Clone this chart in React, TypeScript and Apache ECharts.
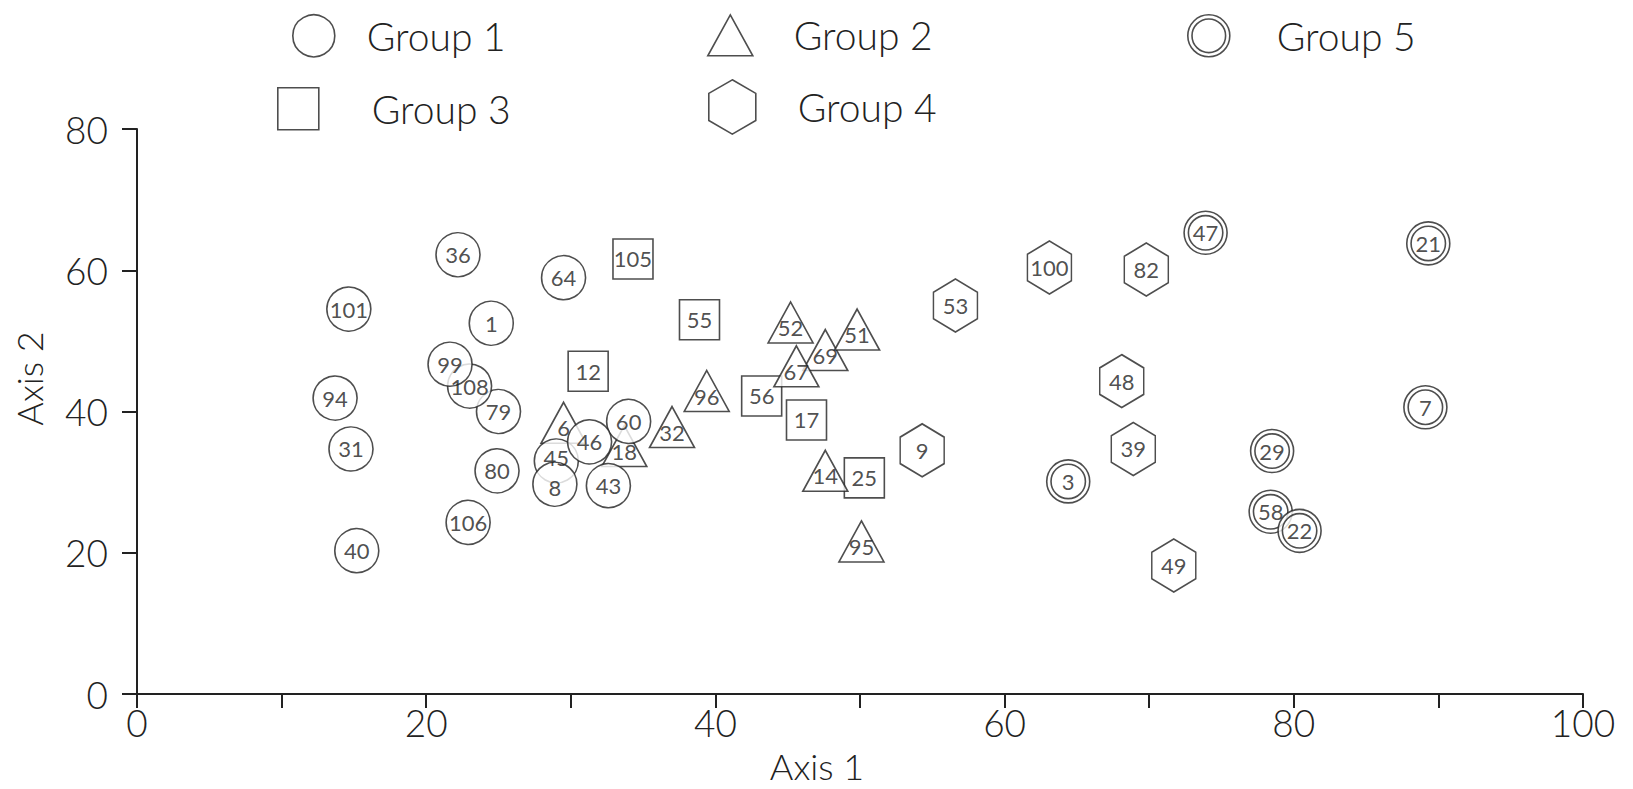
import React, { useEffect, useRef } from "react";
import * as echarts from "echarts";

// ---- data ----
const g1Ids = ["36", "64", "101", "1", "94", "79", "108", "99", "60", "31", "45", "46", "80", "8", "43", "106", "40"];
const g1X = [22.2, 29.5, 14.65, 24.5, 13.7, 25.0, 23.0, 21.65, 34.0, 14.8, 29.0, 31.3, 24.9, 28.9, 32.6, 22.9, 15.2];
const g1Y = [62.2, 58.95, 54.5, 52.5, 41.9, 40.0, 43.6, 46.7, 38.6, 34.7, 33.0, 35.7, 31.6, 29.7, 29.5, 24.3, 20.3];

const g2Ids = ["6", "18", "32", "96", "52", "69", "51", "67", "14", "95"];
const g2X = [29.5, 33.7, 37.0, 39.4, 45.2, 47.6, 49.8, 45.6, 47.6, 50.1];
const g2Y = [38.4, 35.1, 37.8, 42.9, 52.6, 48.7, 51.6, 46.4, 31.6, 21.6];

const g3Ids = ["105", "55", "12", "56", "17", "25"];
const g3X = [34.3, 38.9, 31.2, 43.2, 46.3, 50.3];
const g3Y = [61.6, 53.0, 45.7, 42.2, 38.8, 30.6];

const g4Ids = ["53", "100", "82", "48", "9", "39", "49"];
const g4X = [56.6, 63.1, 69.8, 68.1, 54.3, 68.9, 71.7];
const g4Y = [55.0, 60.4, 60.1, 44.3, 34.5, 34.7, 18.2];

const g5Ids = ["47", "21", "7", "3", "29", "58", "22"];
const g5X = [73.9, 89.3, 89.1, 64.4, 78.5, 78.4, 80.4];
const g5Y = [65.3, 63.8, 40.6, 30.1, 34.4, 25.8, 23.1];

const groupNames = ["Group 1", "Group 2", "Group 3", "Group 4", "Group 5"];
const xTicks = [0, 20, 40, 60, 80, 100];
const yTicks = [0, 20, 40, 60, 80];

// small label nudges (style only) for crowded points
const labelNudge: Record<string, number> = { "45": -3, "8": 3 };

const FONT = "Lato";
const WEIGHT = 300;
const INK = "#222222";

const HEX = "path://M0,-50 L43.3,-25 L43.3,25 L0,50 L-43.3,25 L-43.3,-25 Z";
const DCIRCLE =
  "path://M50,0 A50,50 0 1,1 50,100 A50,50 0 1,1 50,0 Z M50,10 A40,40 0 1,1 50,90 A40,40 0 1,1 50,10 Z";

function build(ids: string[], xs: number[], ys: number[], baseOff: number) {
  return ids.map((id, i) => {
    const item: any = { name: id, value: [xs[i], ys[i]] };
    if (labelNudge[id] !== undefined) item.label = { offset: [0, baseOff + labelNudge[id]] };
    return item;
  });
}

export default function App() {
  const ref = useRef<HTMLDivElement>(null);
  useEffect(() => {
    if (!ref.current) return;
    const chart = echarts.init(ref.current, undefined, { renderer: "svg" });
    const itemStyle = { color: "#ffffff", borderColor: INK, borderWidth: 1.6 };
    const label = (offsetY: number) => ({
      show: true,
      position: "inside",
      formatter: (p: any) => p.name,
      fontFamily: FONT,
      fontWeight: 400,
      fontSize: 22,
      lineHeight: 20,
      color: INK,
      offset: [0, offsetY],
    });
    const mk = (name: string, symbol: string, size: any, ids: string[], xs: number[], ys: number[], off: number) => ({
      type: "scatter",
      name,
      symbol,
      symbolSize: size,
      symbolKeepAspect: false,
      itemStyle,
      label: label(off),
      emphasis: { disabled: true },
      data: build(ids, xs, ys, off),
    });
    const legend = (name: string, icon: string, left: number, top: number, w: number, h: number, gap: number) => ({
      data: [{ name, icon }],
      left,
      top,
      padding: 0,
      itemWidth: w,
      itemHeight: h,
      selectedMode: false,
      itemStyle: { color: "#ffffff", borderColor: INK, borderWidth: 1.6 },
      textStyle: { fontFamily: FONT, fontWeight: WEIGHT, fontSize: 39, color: INK, padding: [0, 0, 0, gap] },
    });
    chart.setOption({
      animation: false,
      backgroundColor: "#ffffff",
      grid: { left: 137, right: 50, top: 129, bottom: 93 },
      legend: [
        legend(groupNames[0], "circle", 292, 14, 42, 42, 27),
        legend(groupNames[1], "triangle", 707, 14, 45, 41, 36),
        legend(groupNames[4], DCIRCLE, 1187, 14, 42, 42, 42),
        legend(groupNames[2], "rect", 277, 87, 41, 42, 48),
        legend(groupNames[3], HEX, 708, 79, 47, 55, 37),
      ],
      xAxis: {
        type: "value",
        min: 0,
        max: 100,
        interval: 10,
        name: "Axis 1",
        nameLocation: "middle",
        nameGap: 54,
        nameTextStyle: { fontFamily: FONT, fontWeight: WEIGHT, fontSize: 36, color: INK, padding: [0, 86, 0, 0] },
        axisLine: { lineStyle: { color: INK, width: 2 } },
        axisTick: { length: 14, lineStyle: { color: INK, width: 2 } },
        axisLabel: {
          margin: 10,
          fontFamily: FONT,
          fontWeight: WEIGHT,
          fontSize: 37,
          color: INK,
          formatter: (v: number) => (xTicks.includes(v) ? String(v) : ""),
        },
        splitLine: { show: false },
      },
      yAxis: {
        type: "value",
        min: 0,
        max: 80,
        interval: 20,
        name: "Axis 2",
        nameLocation: "middle",
        nameGap: 90,
        nameTextStyle: { fontFamily: FONT, fontWeight: WEIGHT, fontSize: 36, color: INK, padding: [0, 0, 0, 66] },
        axisLine: { lineStyle: { color: INK, width: 2 } },
        axisTick: { length: 15, lineStyle: { color: INK, width: 2 } },
        axisLabel: {
          margin: 29,
          fontFamily: FONT,
          fontWeight: WEIGHT,
          fontSize: 37,
          color: INK,
          formatter: (v: number) => (yTicks.includes(v) ? String(v) : ""),
        },
        splitLine: { show: false },
      },
      series: [
        mk(groupNames[2], "rect", 40, g3Ids, g3X, g3Y, 0),
        mk(groupNames[3], HEX, [44, 53], g4Ids, g4X, g4Y, 0),
        mk(groupNames[4], DCIRCLE, 43, g5Ids, g5X, g5Y, 0),
        mk(groupNames[1], "triangle", [45, 41], g2Ids, g2X, g2Y, 5),
        mk(groupNames[0], "circle", 44, g1Ids, g1X, g1Y, 0),
      ],
    });
    return () => chart.dispose();
  }, []);
  return <div ref={ref} style={{ position: "fixed", left: 0, top: 0, width: 1633, height: 789 }} />;
}
